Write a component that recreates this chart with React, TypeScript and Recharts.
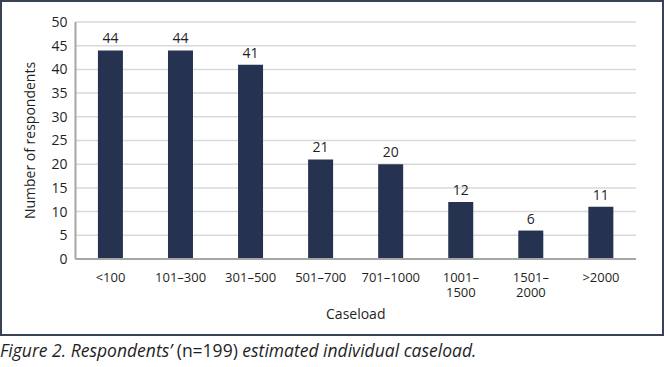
import { Bar, BarChart, CartesianGrid, LabelList, XAxis, YAxis } from "recharts";

const categories = ["<100", "101–300", "301–500", "501–700", "701–1000", "1001–\n1500", "1501–\n2000", ">2000"];
const respondents = [44, 44, 41, 21, 20, 12, 6, 11];
const yTicks = [0, 5, 10, 15, 20, 25, 30, 35, 40, 45, 50];

const data = categories.map((c, i) => ({ caseload: c, value: respondents[i] }));

const FONT = "'Open Sans', 'DejaVu Sans', sans-serif";
const INK = "#1f1f1f";

function CaseTick({ x, y, payload }: any) {
  const lines = String(payload.value).split("\n");
  return (
    <g>
      {lines.map((l, i) => (
        <text key={i} x={x} y={y + 15 + i * 15} textAnchor="middle" fill={INK} fontSize={13} fontFamily={FONT}>
          {l}
        </text>
      ))}
    </g>
  );
}

export default function App() {
  return (
    <div style={{ position: "absolute", left: 0, top: 0, width: 664, fontFamily: FONT }}>
      <div style={{ width: 660, height: 332, border: "2px solid #3a4256" }}>
        <BarChart
          width={660}
          height={332}
          data={data}
          margin={{ top: 20, right: 26, bottom: 15, left: 0 }}
          barCategoryGap="32%"
        >
          <CartesianGrid vertical={false} stroke="#d9d9d9" strokeWidth={1.5} />
          <XAxis
            dataKey="caseload"
            interval={0}
            tickLine={false}
            axisLine={{ stroke: "#a6a6a6", strokeWidth: 2 }}
            height={60}
            tick={<CaseTick />}
            label={{ value: "Caseload", position: "insideBottom", offset: 0, fill: INK, fontSize: 14, fontFamily: FONT }}
          />
          <YAxis
            domain={[0, 50]}
            ticks={yTicks}
            interval={0}
            width={73.5}
            tickLine={false}
            axisLine={{ stroke: "#a6a6a6", strokeWidth: 2 }}
            tick={{ fill: INK, fontSize: 14, fontFamily: FONT }}
            label={{
              value: "Number of respondents",
              angle: -90,
              position: "insideLeft",
              offset: 28,
              fill: INK,
              fontSize: 14,
              fontFamily: FONT,
              style: { textAnchor: "middle" },
            }}
          />
          <Bar dataKey="value" fill="#263350" isAnimationActive={false}>
            <LabelList dataKey="value" position="top" offset={7} fill={INK} fontSize={14} fontFamily={FONT} />
          </Bar>
        </BarChart>
      </div>
      <div style={{ fontStyle: "italic", fontSize: 17.5, color: INK, marginTop: 2, whiteSpace: "nowrap" }}>
        Figure 2. Respondents’ <span style={{ fontStyle: "normal" }}>(n=199)</span> estimated individual caseload.
      </div>
    </div>
  );
}
